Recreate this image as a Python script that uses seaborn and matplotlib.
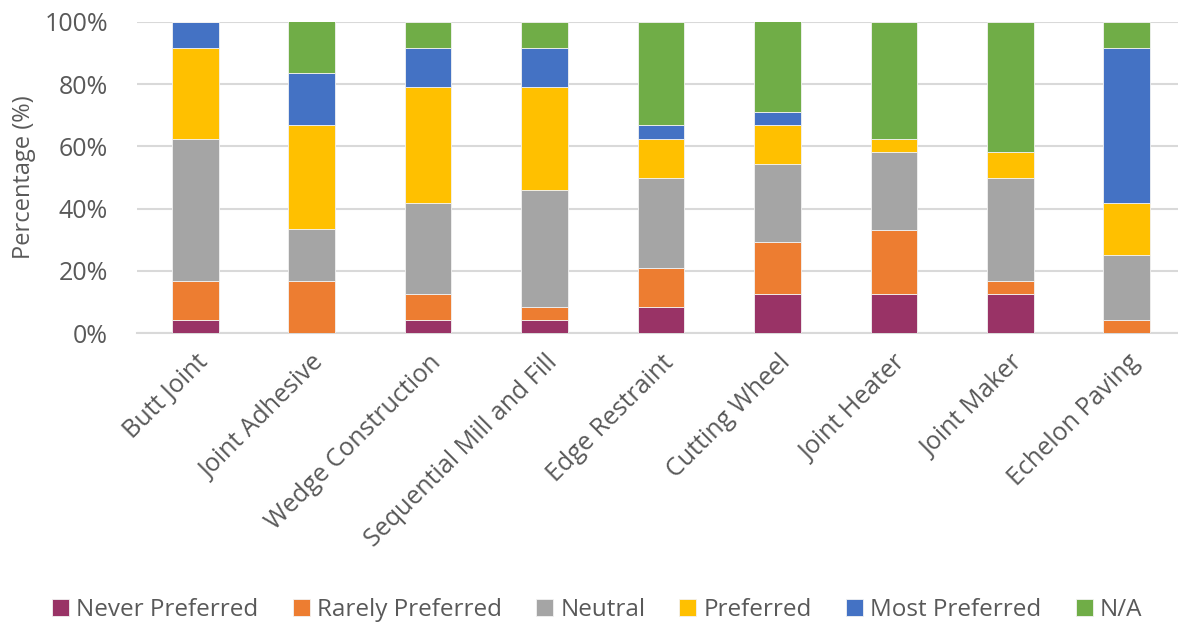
import matplotlib
matplotlib.use('Agg')
import matplotlib.pyplot as plt
import seaborn as sns
import pandas as pd
import numpy as np

# data (percent of respondents)
methods = ['Butt Joint', 'Joint Adhesive', 'Wedge Construction', 'Sequential Mill and Fill',
           'Edge Restraint', 'Cutting Wheel', 'Joint Heater', 'Joint Maker', 'Echelon Paving']
never_pref = [4.2, 0.0, 4.2, 4.2, 8.3, 12.5, 12.5, 12.5, 0.0]
rarely_pref = [12.5, 16.7, 8.3, 4.2, 12.5, 16.7, 20.8, 4.2, 4.2]
neutral = [45.8, 16.7, 29.2, 37.5, 29.2, 25.0, 25.0, 33.3, 20.8]
preferred = [29.2, 33.3, 37.5, 33.3, 12.5, 12.5, 4.2, 8.3, 16.7]
most_pref = [8.3, 16.7, 12.5, 12.5, 4.2, 4.2, 0.0, 0.0, 50.0]
n_a = [0.0, 16.7, 8.3, 8.3, 33.3, 29.2, 37.5, 41.7, 8.3]

series = ['Never Preferred', 'Rarely Preferred', 'Neutral', 'Preferred', 'Most Preferred', 'N/A']
colors = ['#993366', '#ED7D31', '#A5A5A5', '#FFC000', '#4472C4', '#70AD47']

df = pd.DataFrame({'Method': methods,
                   'Never Preferred': never_pref,
                   'Rarely Preferred': rarely_pref,
                   'Neutral': neutral,
                   'Preferred': preferred,
                   'Most Preferred': most_pref,
                   'N/A': n_a})

sns.set_theme(style='white')
plt.rcParams['font.family'] = ['Open Sans', 'DejaVu Sans']

fig = plt.figure(figsize=(11.78, 6.26), dpi=100)
ax = fig.add_axes([0.1163, 0.4676, 0.8837, 0.4977])

bottom = np.zeros(len(methods))
for name, col in zip(series, colors):
    sns.barplot(data=df, x='Method', y=name, color=col, saturation=1, bottom=bottom, width=0.4,
                label=name, edgecolor='#F2F2F2', linewidth=0.6, ax=ax, zorder=3)
    bottom = bottom + df[name].values

ax.set_ylim(0, 100)
ax.set_xlim(-0.5, 8.44)
ax.set_yticks([0, 20, 40, 60, 80, 100])
ax.set_yticklabels(['0%', '20%', '40%', '60%', '80%', '100%'], fontsize=18, color='#595959')
ax.yaxis.grid(True, color='#D9D9D9', linewidth=1.5, zorder=0)
ax.set_axisbelow(True)
for s in ['top', 'right', 'left']:
    ax.spines[s].set_visible(False)
ax.spines['bottom'].set_color('#D9D9D9')
ax.spines['bottom'].set_linewidth(1.5)
ax.tick_params(axis='y', length=0, pad=21)
ax.tick_params(axis='x', length=0, pad=12)
ax.set_xticks(range(len(methods)))
ax.set_xticklabels(methods, rotation=45, ha='right', rotation_mode='anchor',
                   fontsize=18, color='#595959')
ax.set_xlabel('')
ax.set_ylabel('Percentage (%)', fontsize=17, color='#595959', labelpad=6)

handles, labels = ax.get_legend_handles_labels()
ax.legend(handles, labels, loc='center', bbox_to_anchor=(0.507, 0.026),
          bbox_transform=fig.transFigure, ncol=6, frameon=False, fontsize=17.5,
          handlelength=0.7, handleheight=0.7, handletextpad=0.3, columnspacing=1.4,
          labelcolor='#595959')

fig.savefig('out.png', dpi=100)
